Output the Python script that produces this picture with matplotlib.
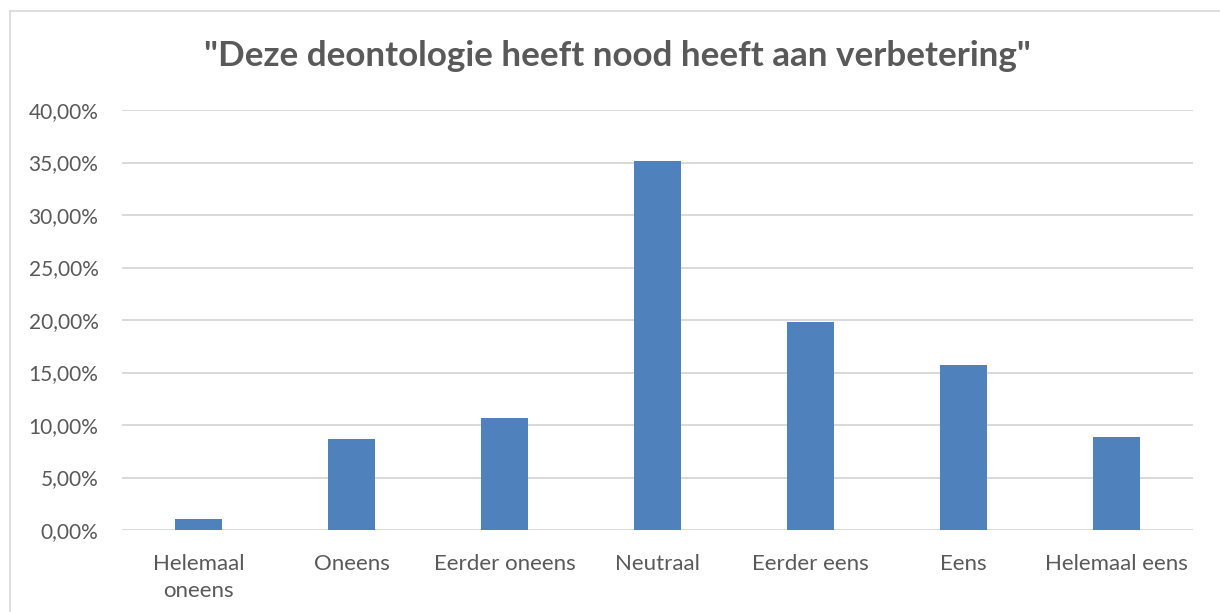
import matplotlib
matplotlib.use("Agg")
import matplotlib.pyplot as plt
from matplotlib.ticker import FuncFormatter
from matplotlib.lines import Line2D

categories = ["Helemaal oneens", "Oneens", "Eerder oneens", "Neutraal",
              "Eerder eens", "Eens", "Helemaal eens"]
tick_labels = ["Helemaal\noneens", "Oneens", "Eerder oneens", "Neutraal",
               "Eerder eens", "Eens", "Helemaal eens"]
values = [1.05, 8.66, 10.66, 35.10, 19.78, 15.70, 8.88]
yticks = [0, 5, 10, 15, 20, 25, 30, 35, 40]
title = '"Deze deontologie heeft nood heeft aan verbetering"'

plt.rcParams['font.family'] = ['Lato', 'DejaVu Sans']

W, H = 1220, 612
fig = plt.figure(figsize=(W / 100, H / 100), dpi=100)
ax = fig.add_axes([122 / W, (H - 530) / H, (1193 - 122) / W, (530 - 110) / H])

x = list(range(len(categories)))
ax.bar(x, values, width=0.31, color="#4F81BD", zorder=3)

ax.set_xlim(-0.5, len(categories) - 0.5)
ax.set_ylim(0, 40)
ax.set_yticks(yticks)
ax.yaxis.set_major_formatter(FuncFormatter(lambda v, p: f"{v:.2f}".replace(".", ",") + "%"))
ax.set_xticks(x)
ax.set_xticklabels(tick_labels, linespacing=1.45)
ax.grid(axis="y", color="#D9D9D9", linewidth=1.4, zorder=0)
for s in ax.spines.values():
    s.set_visible(False)
ax.tick_params(axis="both", length=0, labelcolor="#595959")
ax.tick_params(axis="y", pad=17, labelsize=15)
ax.tick_params(axis="x", pad=17, labelsize=16)

fig.text(617 / W, 1 - 56 / H, title, ha="center", va="center",
         fontsize=25.2, fontweight="bold", color="#595959")

# chart-area border (top and left visible)
fig.add_artist(Line2D([10 / W, 1], [1 - 11 / H, 1 - 11 / H], color="#D9D9D9", linewidth=1.2))
fig.add_artist(Line2D([10 / W, 10 / W], [0, 1 - 11 / H], color="#D9D9D9", linewidth=1.2))

fig.savefig("out.png", dpi=100)
